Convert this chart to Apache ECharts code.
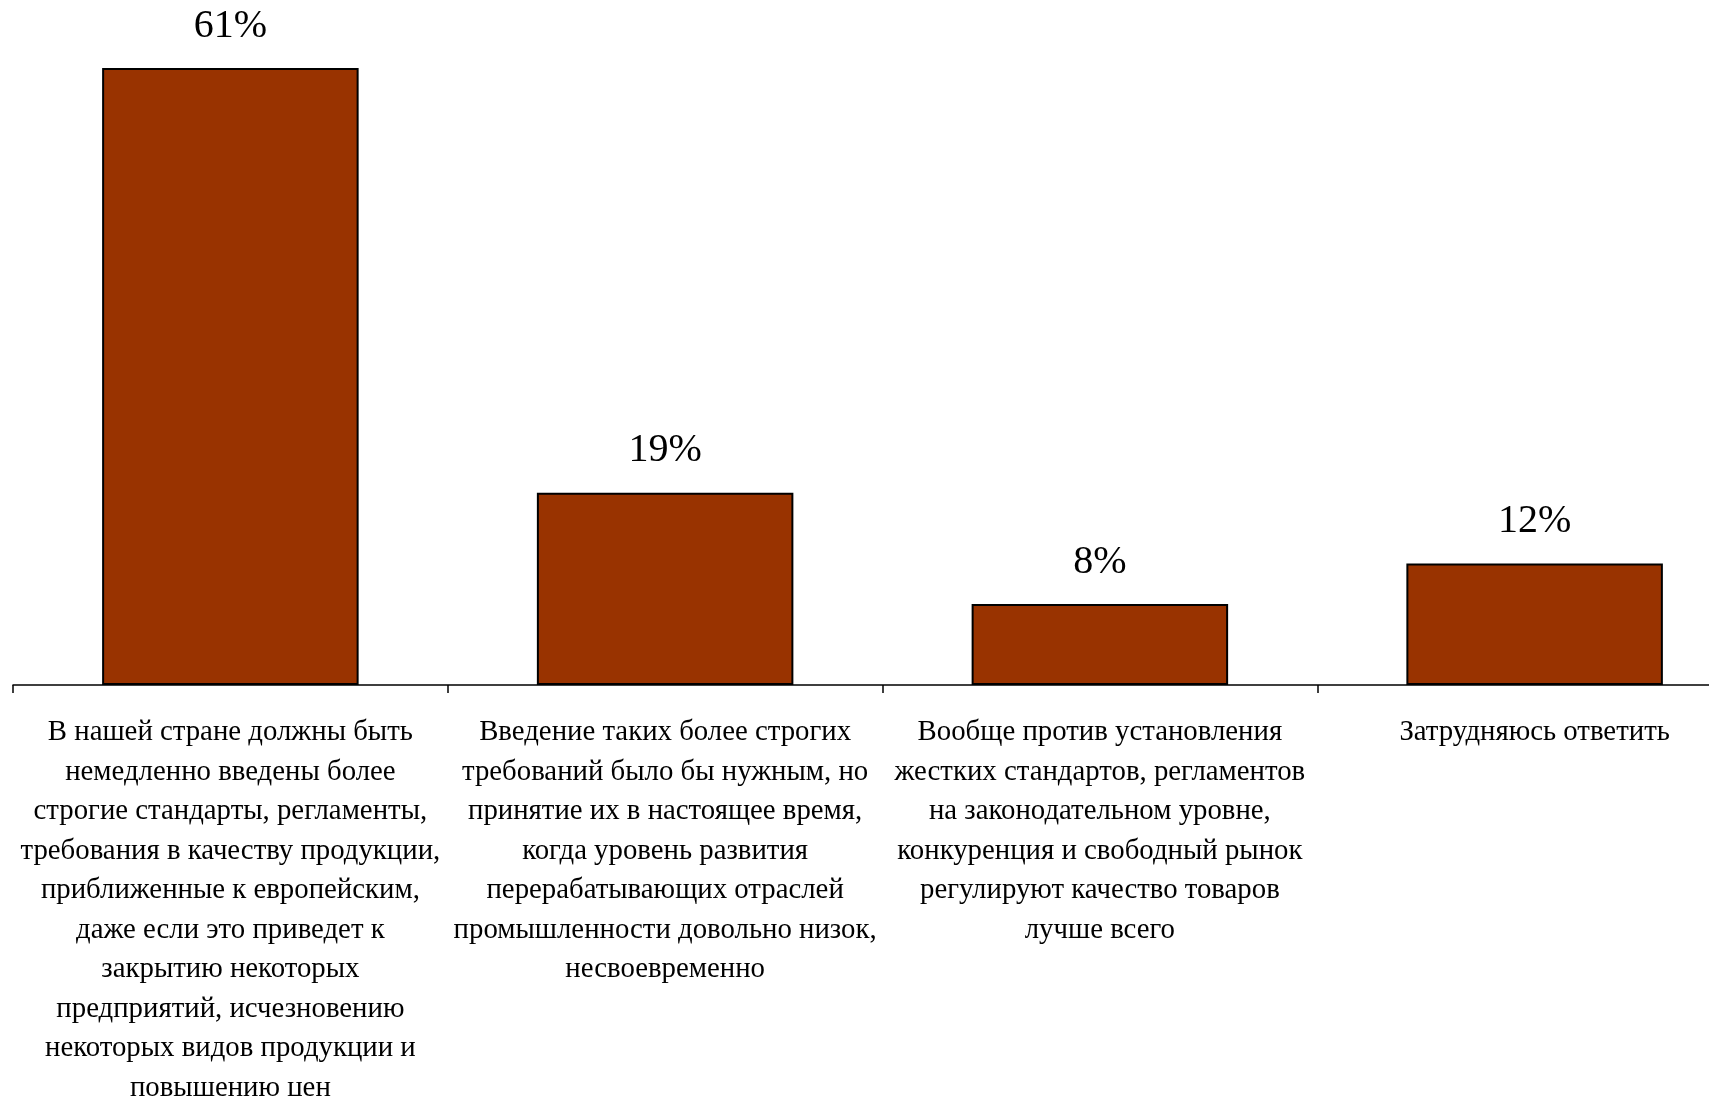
<!DOCTYPE html>
<html><head><meta charset="utf-8">
<script src="https://cdn.jsdelivr.net/npm/echarts@6/dist/echarts.min.js"></script>
<style>html,body{margin:0;padding:0;background:#fff}#c{width:1709px;height:1096px}</style>
</head><body><div id="c"></div>
<script>
const categories = [
  "В нашей стране должны быть\nнемедленно введены более\nстрогие стандарты, регламенты,\nтребования в качеству продукции,\nприближенные к европейским,\nдаже если это приведет к\nзакрытию некоторых\nпредприятий, исчезновению\nнекоторых видов продукции и\nповышению цен",
  "Введение таких более строгих\nтребований было бы нужным, но\nпринятие их в настоящее время,\nкогда уровень развития\nперерабатывающих отраслей\nпромышленности довольно низок,\nнесвоевременно",
  "Вообще против установления\nжестких стандартов, регламентов\nна законодательном уровне,\nконкуренция и свободный рынок\nрегулируют качество товаров\nлучше всего",
  "Затрудняюсь ответить"
];
const values = [61, 19, 8, 12];

const chart = echarts.init(document.getElementById('c'), null, {renderer: 'canvas'});
chart.setOption({
  animation: false,
  backgroundColor: '#ffffff',
  grid: {left: 13, width: 1739, top: 68, bottom: 411, containLabel: false, outerBoundsMode: 'none'},
  xAxis: {
    type: 'category',
    data: categories,
    boundaryGap: true,
    axisLine: {show: true, lineStyle: {color: '#000', width: 1.5}},
    axisTick: {show: true, length: 8, lineStyle: {color: '#000', width: 1.5}},
    axisLabel: {
      interval: 0, margin: 28,
      fontFamily: 'Liberation Serif', fontSize: 28.8, lineHeight: 39.5,
      color: '#000', align: 'center'
    }
  },
  yAxis: {type: 'value', min: 0, max: 61, show: false, splitLine: {show: false}},
  series: [{
    type: 'bar',
    data: values,
    barWidth: '59%',
    itemStyle: {color: '#993300', borderColor: '#000', borderWidth: 2},
    label: {
      show: true, position: 'top', distance: 22,
      formatter: '{c}%',
      fontFamily: 'Liberation Serif', fontSize: 40, color: '#000'
    }
  }]
});
</script></body></html>
